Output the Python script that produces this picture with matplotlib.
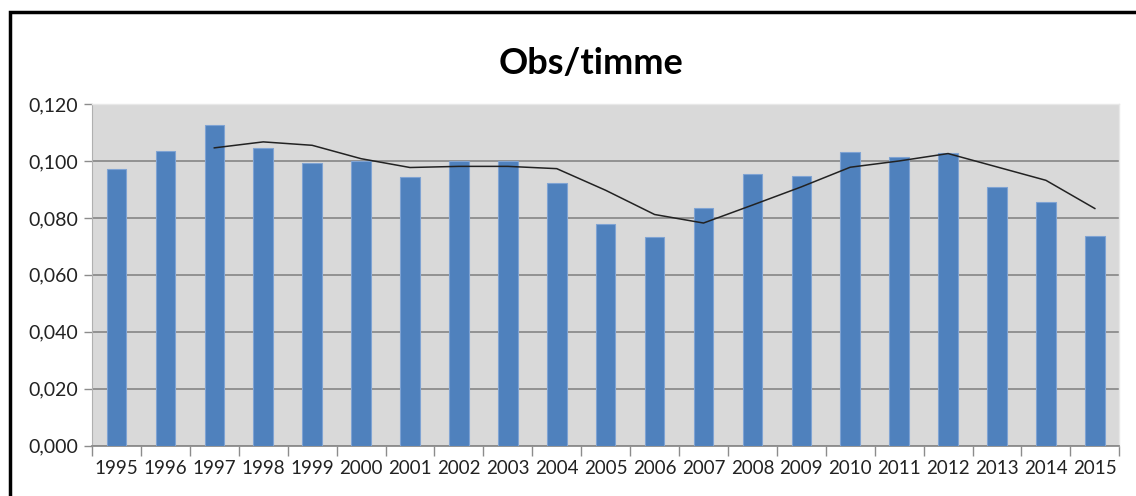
#!/usr/bin/python
# -*- coding: utf-8 -*-
"""Obs/timme bar chart with running mean line."""
import numpy as np
import matplotlib
matplotlib.use('Agg')
import matplotlib.pyplot as plt
from matplotlib.patches import Rectangle
from matplotlib.ticker import FuncFormatter, FixedLocator

plt.rcParams['font.family'] = ['Lato', 'DejaVu Sans']

years = ['1995', '1996', '1997', '1998', '1999', '2000', '2001', '2002', '2003',
         '2004', '2005', '2006', '2007', '2008', '2009', '2010', '2011', '2012',
         '2013', '2014', '2015']
obs = [0.0972, 0.1034, 0.1128, 0.1045, 0.0993, 0.1000, 0.0943, 0.1000, 0.0999,
       0.0921, 0.0777, 0.0733, 0.0834, 0.0953, 0.0946, 0.1033, 0.1015, 0.1027,
       0.0907, 0.0855, 0.0737]
# running mean, drawn from 1997
trend_years = years[2:]
trend = [0.1046, 0.1067, 0.1055, 0.1008, 0.0977, 0.0981, 0.0981, 0.0973,
         0.0897, 0.0812, 0.0782, 0.0845, 0.0909, 0.0978, 0.1000, 0.1026,
         0.0979, 0.0932, 0.0833]

fig = plt.figure(figsize=(11.36, 4.96), dpi=100)
ax = fig.add_axes([0.081, 0.1014, 0.9043, 0.6889])
ax.set_facecolor('#D9D9D9')

x = np.arange(len(years))
xt = np.arange(2, len(years))
ax.bar(x, obs, width=0.4, color='#4F81BD', edgecolor='#7FA3D3', linewidth=0.8, zorder=3)
ax.plot(xt, trend, color='#222222', linewidth=1.1, zorder=4)

ax.set_xlim(-0.5, len(years) - 0.5)
ax.set_ylim(0, 0.12)
ax.set_yticks(np.arange(0, 0.1201, 0.02))
ax.yaxis.set_major_formatter(FuncFormatter(lambda v, p: ('%.3f' % v).replace('.', ',')))
ax.grid(axis='y', color='#8C8C8C', linewidth=1.3, zorder=1)
ax.set_axisbelow(True)

ax.set_xticks(x)
ax.set_xticklabels(years)
ax.xaxis.set_minor_locator(FixedLocator(np.arange(-0.5, len(years), 1.0)))
ax.tick_params(axis='x', which='major', length=0, pad=10, labelsize=13.5, colors='#222222')
ax.tick_params(axis='x', which='minor', length=7, width=1, color='#8C8C8C')
ax.tick_params(axis='y', length=6, width=1, color='#8C8C8C', labelsize=14, labelcolor='#222222', pad=4)

for s in ['top', 'right']:
    ax.spines[s].set_color('#E8E8E8')
    ax.spines[s].set_linewidth(1)
ax.spines['left'].set_color('#B0B0B0')
ax.spines['bottom'].set_color('#8C8C8C')
ax.spines['bottom'].set_linewidth(1.3)

fig.text(0.52, 0.872, 'Obs/timme', ha='center', va='center',
         fontsize=26, fontweight='bold', color='black')

# outer chart frame, partly cut off at right and bottom
fig.patches.append(Rectangle((0.0084, -0.05), 1.1, 1.0248, transform=fig.transFigure,
                             fill=False, edgecolor='black', linewidth=2.5, clip_on=False))

fig.savefig('out.png', dpi=100)
